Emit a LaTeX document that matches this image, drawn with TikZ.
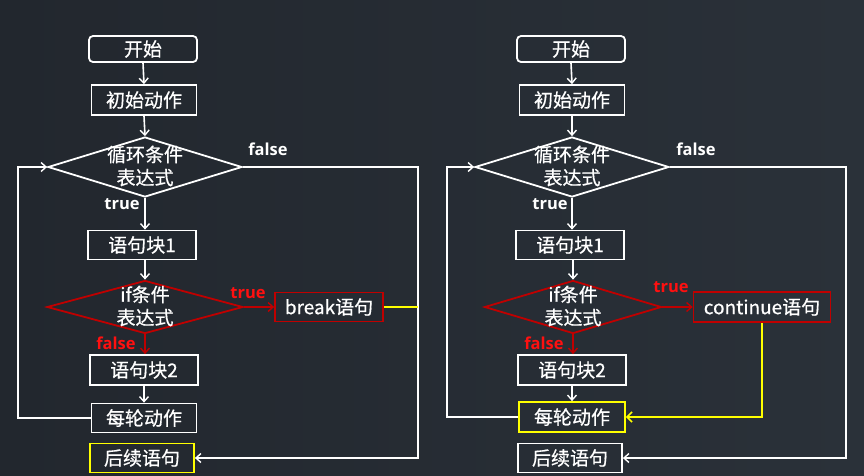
\documentclass[tikz,border=0pt]{standalone}
\usepackage{fontspec}
\setmainfont{Noto Sans CJK SC}[FakeBold=0.6]
\newfontfamily\labfont{Open Sans}
\usetikzlibrary{shapes.geometric,arrows.meta}
\definecolor{bgL}{HTML}{22272E}
\definecolor{bgR}{HTML}{2A3139}
\definecolor{dred}{HTML}{C00000}
\definecolor{bred}{HTML}{FF1010}
\definecolor{yel}{HTML}{FFFF00}
\begin{document}
\begin{tikzpicture}[x=1pt,y=-1pt,
  box/.style={draw=white,line width=1.8pt,text=white,font=\fontsize{19}{22}\selectfont,inner sep=0pt,minimum height=29pt},
  rbox/.style={box,draw=dred},
  ybox/.style={box,draw=yel},
  startbox/.style={box,rounded corners=4pt,minimum height=26pt},
  dia/.style={draw=white,diamond,line width=1.8pt,inner sep=0pt},
  rdia/.style={dia,draw=dred},
  dtext/.style={text=white,align=center,font=\fontsize{19}{23}\selectfont,inner sep=0pt},
  conn/.style={draw=white,line width=1.6pt},
  arr/.style={conn,-{Straight Barb[length=5pt,width=9pt,line width=1.4pt]}},
  rarr/.style={arr,draw=dred},
  yline/.style={draw=yel,line width=2pt},
  yarr/.style={yline,-{Straight Barb[length=5pt,width=10pt,line width=1.6pt]}},
  wlab/.style={text=white,font=\labfont\bfseries\fontsize{16.5}{18}\selectfont,inner sep=0pt},
  rlab/.style={wlab,text=bred}
]
\useasboundingbox (0,0) rectangle (864,475);
\shade[left color=bgL,right color=bgR] (0,0) rectangle (864,475);

% ---------- left diagram ----------
\node[startbox,minimum width=108pt] (s1) at (143,49) {开始};
\node[box,minimum width=105pt,minimum height=30pt] (i1) at (144,100) {初始动作};
\node[dia,minimum width=194pt,minimum height=60pt] (c1) at (145,167) {};
\node[dtext] (c1t) at (145,166) {循环条件\\表达式};
\node[box,minimum width=108pt] (b11) at (142,245) {语句块1};
\node[rdia,minimum width=196pt,minimum height=53pt] (f1) at (145,307) {};
\node[dtext] (f1t) at (145,306) {if条件\\表达式};
\node[rbox,minimum width=108pt] (k1) at (329,307) {break语句};
\node[box,minimum width=108pt,minimum height=30pt] (b21) at (144,370) {语句块2};
\node[box,minimum width=105pt] (e1) at (144,418) {每轮动作};
\node[ybox,minimum width=104pt] (a1) at (142,458) {后续语句};

\coordinate (L1) at (18,418);
\coordinate (R1) at (418,167);
\coordinate (R1b) at (418,458);
\coordinate (Y1) at (418,307);

\draw[arr] (s1.south) -- (i1.north);
\draw[arr] (i1.south) -- (c1.north);
\draw[arr] (c1.south) -- (c1.south |- b11.north);
\draw[arr] (f1.north |- b11.south) -- (f1.north);
\draw[rarr] (f1.east) -- (k1.west);
\draw[rarr] (f1.south) -- (f1.south |- b21.north);
\draw[arr] (b21.south) -- (e1.north);
\draw[arr] (e1.west) -- (L1) |- (c1.west);
\draw[arr] (c1.east) -- (R1) -- (R1b) -- (a1.east);
\draw[yline] (k1.east) -- (Y1);

\node[wlab] (t1) at (268,149) {false};
\node[wlab] (t2) at (122,204) {true};
\node[rlab] (t3) at (248,293) {true};
\node[rlab] (t4) at (116,343) {false};

% ---------- right diagram ----------
\node[startbox,minimum width=108pt] (s2) at (571,49) {开始};
\node[box,minimum width=105pt,minimum height=30pt] (i2) at (572,100) {初始动作};
\node[dia,minimum width=194pt,minimum height=60pt] (c2) at (572,167) {};
\node[dtext] (c2t) at (572,166) {循环条件\\表达式};
\node[box,minimum width=108pt] (b12) at (570,245) {语句块1};
\node[rdia,minimum width=177pt,minimum height=53pt] (f2) at (573,307) {};
\node[dtext] (f2t) at (573,306) {if条件\\表达式};
\node[rbox,minimum width=137pt,minimum height=30pt] (k2) at (762,307) {continue语句};
\node[box,minimum width=108pt,minimum height=30pt] (b22) at (572,370) {语句块2};
\node[ybox,minimum width=106pt,minimum height=30pt] (e2) at (572,417) {每轮动作};
\node[box,minimum width=104pt] (a2) at (570,458) {后续语句};

\coordinate (L2) at (447,417);
\coordinate (R2) at (846,167);
\coordinate (R2b) at (846,458);

\draw[arr] (s2.south) -- (i2.north);
\draw[arr] (i2.south) -- (c2.north);
\draw[arr] (c2.south) -- (c2.south |- b12.north);
\draw[arr] (f2.north |- b12.south) -- (f2.north);
\draw[rarr] (f2.east) -- (k2.west);
\draw[rarr] (f2.south) -- (f2.south |- b22.north);
\draw[arr] (b22.south) -- (e2.north);
\draw[arr] (e2.west) -- (L2) |- (c2.west);
\draw[arr] (c2.east) -- (R2) -- (R2b) -- (a2.east);
\draw[yarr] (k2.south) |- (e2.east);

\node[wlab] (t5) at (696,149) {false};
\node[wlab] (t6) at (550,204) {true};
\node[rlab] (t7) at (671,287) {true};
\node[rlab] (t8) at (544,343) {false};
\end{tikzpicture}
\end{document}
